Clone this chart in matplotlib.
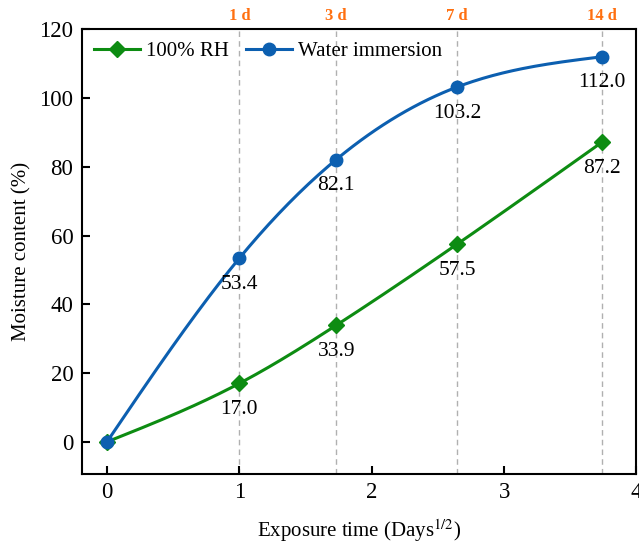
import numpy as np
import matplotlib
matplotlib.use('Agg')
import matplotlib.pyplot as plt

# data
days = [0, 1, 3, 7, 14]
day_labels = ['1 d', '3 d', '7 d', '14 d']
rh_100 = [0.0, 17.0, 33.9, 57.5, 87.2]
water = [0.0, 53.4, 82.1, 103.2, 112.0]

plt.rcParams['font.family'] = ['Liberation Serif', 'DejaVu Serif']
plt.rcParams['mathtext.fontset'] = 'stix'


def natural_spline(x, y, n=200):
    # natural cubic spline, just for drawing the smooth line
    x = np.asarray(x, float)
    y = np.asarray(y, float)
    k = len(x)
    h = np.diff(x)
    A = np.zeros((k, k))
    b = np.zeros(k)
    A[0, 0] = A[-1, -1] = 1
    for i in range(1, k - 1):
        A[i, i - 1] = h[i - 1]
        A[i, i] = 2 * (h[i - 1] + h[i])
        A[i, i + 1] = h[i]
        b[i] = 3 * ((y[i + 1] - y[i]) / h[i] - (y[i] - y[i - 1]) / h[i - 1])
    c = np.linalg.solve(A, b)
    xs = np.linspace(x[0], x[-1], n)
    ys = np.empty_like(xs)
    for j, xv in enumerate(xs):
        i = min(np.searchsorted(x, xv, side='right') - 1, k - 2)
        bi = (y[i + 1] - y[i]) / h[i] - h[i] * (2 * c[i] + c[i + 1]) / 3
        di = (c[i + 1] - c[i]) / (3 * h[i])
        t = xv - x[i]
        ys[j] = y[i] + bi * t + c[i] * t ** 2 + di * t ** 3
    return xs, ys


x = np.sqrt(days)
green = '#0d8c12'
blue = '#0c5fb0'

fig = plt.figure(figsize=(6.39, 5.51), dpi=100)
ax = fig.add_axes([0.128, 0.140, 0.868, 0.807])

for xv in x[1:]:
    ax.axvline(xv, color='#b0b0b0', ls=(0, (4, 3)), lw=1, zorder=0)

xs, ys = natural_spline(x, rh_100)
ax.plot(xs, ys, color=green, lw=2.2)
ax.plot(x, rh_100, 'D', color=green, ms=8, ls='none')
ax.plot([], [], '-D', color=green, lw=2.2, ms=8, label='100% RH')

xs, ys = natural_spline(x, water)
ax.plot(xs, ys, color=blue, lw=2.2)
ax.plot(x, water, 'o', color=blue, ms=9, ls='none')
ax.plot([], [], '-o', color=blue, lw=2.2, ms=9, label='Water immersion')

for xv, v in zip(x[1:], rh_100[1:]):
    ax.annotate('%.1f' % v, (xv, v), xytext=(0, -12), textcoords='offset points',
                ha='center', va='top', fontsize=15.5)
for xv, v in zip(x[1:], water[1:]):
    ax.annotate('%.1f' % v, (xv, v), xytext=(0, -12), textcoords='offset points',
                ha='center', va='top', fontsize=15.5)

for xv, lab in zip(x[1:], day_labels):
    ax.text(xv, 1.012, lab, transform=ax.get_xaxis_transform(), ha='center',
            va='bottom', color='#ff7010', fontweight='bold', fontsize=12)

ax.set_xlim(-0.19, 4.0)
ax.set_ylim(-9.3, 120)
ax.set_xticks([0, 1, 2, 3, 4])
ax.set_yticks(range(0, 121, 20))
ax.tick_params(direction='in', length=6, width=1.5, labelsize=16.5, pad=6)
for s in ax.spines.values():
    s.set_linewidth(1.5)

ax.set_xlabel('Exposure time (Days$^{1/2}$)', fontsize=15, labelpad=10)
ax.set_ylabel('Moisture content (%)', fontsize=15, labelpad=6)

ax.legend(loc='upper left', ncol=2, frameon=False, fontsize=15, handlelength=2.2,
          handletextpad=0.3, columnspacing=0.8, borderaxespad=0.2)

fig.savefig('out.png', dpi=100)
